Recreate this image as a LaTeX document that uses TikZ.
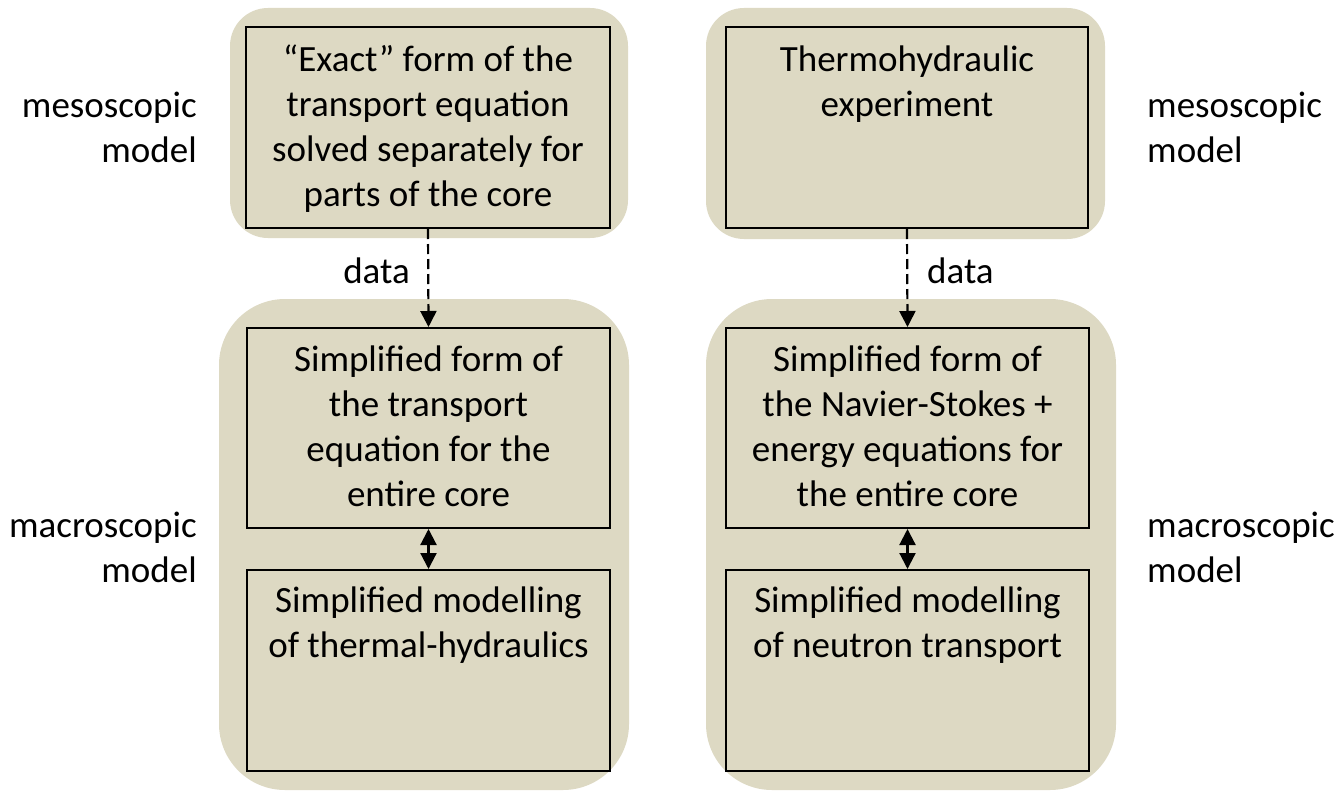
\documentclass[tikz,border=0pt]{standalone}
\usepackage{fontspec}
\setmainfont{Carlito}
\usetikzlibrary{arrows.meta,calc}
\definecolor{tan}{HTML}{DDD9C3}
\newcommand{\fl}{\vrule height 30pt depth 0pt width 0pt}
\tikzset{
  cont/.style={fill=tan, draw=none, rectangle, inner sep=0pt},
  box/.style={draw=black, line width=2pt, fill=tan, rectangle, inner sep=0pt},
  txt/.style={align=center, anchor=north, inner sep=0pt, font=\fontsize{37}{45}\selectfont},
  side/.style={inner sep=0pt, font=\fontsize{37}{45}\selectfont},
  dataarrow/.style={line width=2.2pt, dash pattern=on 10pt off 5pt, -{Triangle[length=16pt,width=16pt]}},
  linkarrow/.style={line width=2.2pt, {Triangle[length=16pt,width=16pt]}-{Triangle[length=16pt,width=16pt]}}
}
\begin{document}
\begin{tikzpicture}[x=1pt,y=-1pt]
\useasboundingbox (0,0) rectangle (1337,792);
% containers
\node[cont, rounded corners=38pt, minimum width=398pt, minimum height=230pt] (ctl) at (429,123) {};
\node[cont, rounded corners=66pt, minimum width=410pt, minimum height=491pt] (cbl) at (424,544.5) {};
\node[cont, rounded corners=38pt, minimum width=399pt, minimum height=231pt] (ctr) at (905.5,123.5) {};
\node[cont, rounded corners=66pt, minimum width=410pt, minimum height=491pt] (cbr) at (911,544.5) {};
% boxes
\node[box, minimum width=364pt, minimum height=201pt] (tl) at (428,127.5) {};
\node[box, minimum width=363pt, minimum height=200pt] (bl1) at (428.5,428) {};
\node[box, minimum width=363pt, minimum height=201pt] (bl2) at (428.5,670.5) {};
\node[box, minimum width=362pt, minimum height=201pt] (tr) at (907,127.5) {};
\node[box, minimum width=363pt, minimum height=200pt] (br1) at (907.5,428) {};
\node[box, minimum width=363pt, minimum height=201pt] (br2) at (907.5,670.5) {};
% box texts
\node[txt] (tlt) at ($(tl.north)+(0,15)$) {\fl “Exact” form of the\\transport equation\\solved separately for\\parts of the core};
\node[txt] (bl1t) at ($(bl1.north)+(0,14)$) {\fl Simplified form of\\the transport\\equation for the\\entire core};
\node[txt] (bl2t) at ($(bl2.north)+(0,13)$) {\fl Simplified modelling\\of thermal-hydraulics};
\node[txt] (trt) at ($(tr.north)+(0,15)$) {\fl Thermohydraulic\\experiment};
\node[txt] (br1t) at ($(br1.north)+(0,14)$) {\fl Simplified form of\\the Navier-Stokes +\\energy equations for\\the entire core};
\node[txt] (br2t) at ($(br2.north)+(0,13)$) {\fl Simplified modelling\\of neutron transport};
% side labels
\node[side, align=right, anchor=north east] (mesoL) at (197,87) {\fl mesoscopic\\model};
\node[side, align=right, anchor=north east] (macroL) at (197,507) {\fl macroscopic\\model};
\node[side, align=left, anchor=north west] (mesoR) at (1147,87) {\fl mesoscopic\\model};
\node[side, align=left, anchor=north west] (macroR) at (1147,507) {\fl macroscopic\\model};
% data labels
\node[side, anchor=base east] (dataL) at (410,283) {data};
\node[side, anchor=base west] (dataR) at (927,283) {data};
% connectors
\draw[dataarrow] (tl.south) -- (bl1.north);
\draw[dataarrow] (tr.south) -- (br1.north);
\draw[linkarrow] (bl1.south) -- (bl2.north);
\draw[linkarrow] (br1.south) -- (br2.north);
\end{tikzpicture}
\end{document}
